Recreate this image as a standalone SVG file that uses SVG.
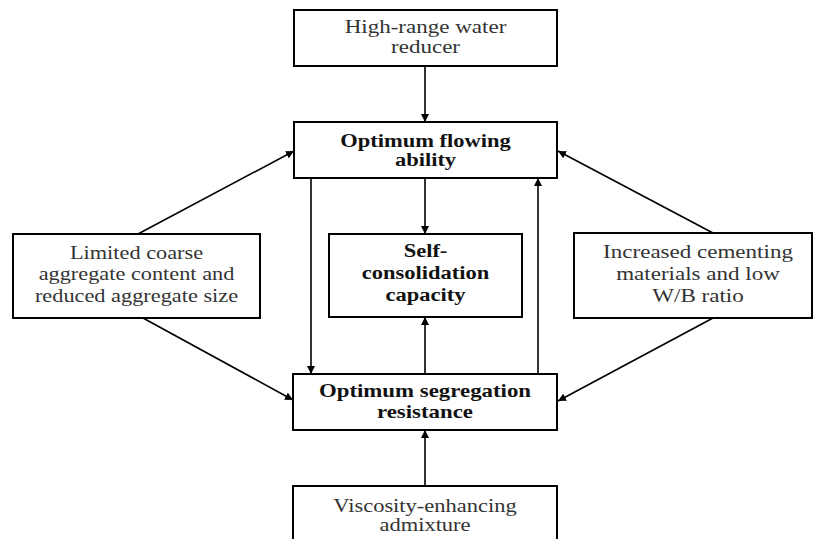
<svg xmlns="http://www.w3.org/2000/svg" width="813" height="539" viewBox="0 0 813 539">
<style>
.box{fill:#fff;stroke:#000;stroke-width:2}
.t{font-family:"Liberation Serif","DejaVu Serif",serif;font-size:18px;fill:#333;text-anchor:middle}
.b{font-family:"Liberation Serif","DejaVu Serif",serif;font-size:18px;font-weight:bold;fill:#111;text-anchor:middle}
.c{stroke:#000;stroke-width:1.6;fill:none;marker-end:url(#ah)}
</style>
<defs>
<marker id="ah" viewBox="0 0 10 10" refX="10" refY="5" markerWidth="5" markerHeight="5" orient="auto" markerUnits="strokeWidth">
<path d="M0,0 L10,5 L0,10 z" fill="#000"/>
</marker>
</defs>
<rect width="813" height="539" fill="#fff"/>
<g id="connectors">
<line class="c" x1="425" y1="66" x2="425" y2="122"/>
<line class="c" x1="425" y1="178" x2="425" y2="234"/>
<line class="c" x1="425" y1="374" x2="425" y2="317"/>
<line class="c" x1="425" y1="486" x2="425" y2="430"/>
<line class="c" x1="311" y1="178" x2="311" y2="374"/>
<line class="c" x1="538" y1="374" x2="538" y2="178"/>
<line class="c" x1="138" y1="234" x2="294" y2="151"/>
<line class="c" x1="143" y1="318" x2="293" y2="400"/>
<line class="c" x1="713" y1="233" x2="558" y2="151"/>
<line class="c" x1="713" y1="318" x2="558" y2="401"/>
</g>
<g id="hrwr">
<rect class="box" x="294" y="10" width="263" height="56"/>
<g transform="matrix(1.28 0 0 1 425.5 0)"><text class="t" x="0" y="33">High-range water</text><text class="t" x="0" y="53">reducer</text></g>
</g>
<g id="flowing">
<rect class="box" x="294" y="122" width="263" height="56"/>
<g transform="matrix(1.25 0 0 1 425.5 0)"><text class="b" x="0" y="147">Optimum flowing</text><text class="b" x="0" y="166">ability</text></g>
</g>
<g id="self">
<rect class="box" x="329" y="234" width="193" height="83"/>
<g transform="matrix(1.25 0 0 1 425.5 0)"><text class="b" x="0" y="257">Self-</text><text class="b" x="0" y="279">consolidation</text><text class="b" x="0" y="301">capacity</text></g>
</g>
<g id="limited">
<rect class="box" x="13" y="234" width="247" height="84"/>
<g transform="matrix(1.24 0 0 1 136.5 0)"><text class="t" x="0" y="259">Limited coarse</text><text class="t" x="0" y="280">aggregate content and</text><text class="t" x="0" y="302">reduced aggregate size</text></g>
</g>
<g id="cementing">
<rect class="box" x="574" y="233" width="238" height="85"/>
<g transform="matrix(1.28 0 0 1 698 0)"><text class="t" x="0" y="258">Increased cementing</text><text class="t" x="0" y="280">materials and low</text><text class="t" x="0" y="302">W/B ratio</text></g>
</g>
<g id="segregation">
<rect class="box" x="293" y="374" width="264" height="56"/>
<g transform="matrix(1.27 0 0 1 425 0)"><text class="b" x="0" y="397">Optimum segregation</text><text class="b" x="0" y="418">resistance</text></g>
</g>
<g id="vma">
<rect class="box" x="293" y="486" width="264" height="60"/>
<g transform="matrix(1.25 0 0 1 425 0)"><text class="t" x="0" y="512">Viscosity-enhancing</text><text class="t" x="0" y="531">admixture</text></g>
</g>
</svg>
